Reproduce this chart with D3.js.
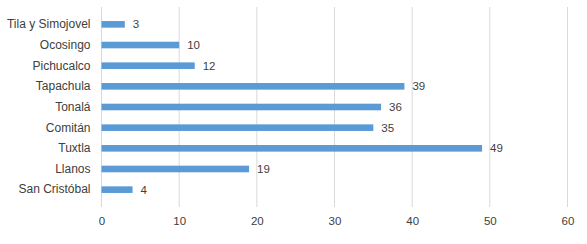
<!DOCTYPE html>
<html>
<head>
<meta charset="utf-8">
<script src="https://cdn.jsdelivr.net/npm/d3@7"></script>
<style>
  body { margin: 0; background: #fff; }
  text { font-family: "Liberation Sans", Arial, sans-serif; font-size: 11.5px; fill: #404040; }
</style>
</head>
<body>
<div id="chart"></div>
<script>
// data
var categories = ["Tila y Simojovel", "Ocosingo", "Pichucalco", "Tapachula", "Tonalá", "Comitán", "Tuxtla", "Llanos", "San Cristóbal"];
var values = [3, 10, 12, 39, 36, 35, 49, 19, 4];
var xTicks = [0, 10, 20, 30, 40, 50, 60];

var svgWidth = 587, svgHeight = 244;
var margin = { top: 7, right: 19.5, bottom: 37, left: 101.5 };
var width = svgWidth - margin.left - margin.right;
var height = svgHeight - margin.top - margin.bottom;

var svg = d3.select("#chart").append("svg")
  .attr("width", svgWidth)
  .attr("height", svgHeight);

var chartGroup = svg.append("g")
  .attr("transform", `translate(${margin.left}, ${margin.top})`);

var xScale = d3.scaleLinear().domain([0, 60]).range([0, width]);
var yScale = d3.scaleBand().domain(categories).range([0, height]).padding(0.68);

// vertical gridlines
chartGroup.selectAll(".grid")
  .data(xTicks)
  .enter()
  .append("line")
  .attr("x1", d => xScale(d))
  .attr("x2", d => xScale(d))
  .attr("y1", 0)
  .attr("y2", height)
  .attr("stroke", "#d9d9d9")
  .attr("stroke-width", 1);

// x axis labels
var bottomAxis = d3.axisBottom(xScale).tickValues(xTicks).tickSize(0).tickPadding(10);
var xAxis = chartGroup.append("g")
  .attr("transform", `translate(0, ${height})`)
  .call(bottomAxis);
xAxis.select(".domain").remove();
xAxis.selectAll("text").style("font-size", "11.5px").style("fill", "#404040");

// y axis labels
var leftAxis = d3.axisLeft(yScale).tickSize(0).tickPadding(11);
var yAxis = chartGroup.append("g").call(leftAxis);
yAxis.select(".domain").remove();
yAxis.selectAll("text").style("font-size", "12px").style("fill", "#404040");

// bars
chartGroup.selectAll(".bar")
  .data(categories)
  .enter()
  .append("rect")
  .attr("x", xScale(0))
  .attr("y", d => yScale(d))
  .attr("width", (d, i) => xScale(values[i]) - xScale(0))
  .attr("height", yScale.bandwidth())
  .attr("fill", "#5b9bd5");

// value labels
chartGroup.selectAll(".val")
  .data(categories)
  .enter()
  .append("text")
  .attr("x", (d, i) => xScale(values[i]) + 8)
  .attr("y", d => yScale(d) + yScale.bandwidth() / 2)
  .attr("dy", "0.35em")
  .text((d, i) => values[i]);
</script>
</body>
</html>
